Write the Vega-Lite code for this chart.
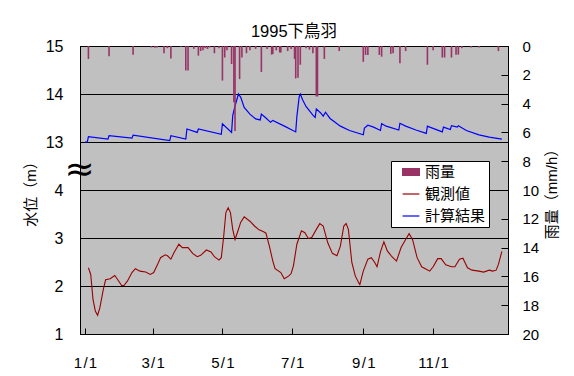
{
  "$schema": "https://vega.github.io/schema/vega-lite/v6.json",
  "width": 428,
  "height": 288,
  "autosize": {"type": "none"},
  "padding": {"left": 80, "top": 46, "right": 66, "bottom": 42},
  "background": "white",
  "title": {"text": "1995下鳥羽", "fontSize": 16.5, "font": "Liberation Sans, Noto Sans CJK JP", "fontWeight": "normal", "color": "#000", "anchor": "middle", "frame": "group", "baseline": "alphabetic", "offset": -15},
  "config": {
    "view": {"fill": "#c0c0c0", "stroke": "#000", "strokeWidth": 1},
    "font": "Liberation Sans, Noto Sans CJK JP",
    "axis": {"labelColor": "#000", "titleColor": "#000", "domainColor": "#000", "tickColor": "#000", "labelFlush": false, "labelOverlap": false, "titleFontWeight": "normal", "labelFont": "Liberation Sans, Noto Sans CJK JP", "titleFont": "Liberation Sans, Noto Sans CJK JP"}
  },
  "datasets": {
    "obs": [
      {"s":"観測値","d":"1995-01-04","v":2.38},{"s":"観測値","d":"1995-01-06","v":2.24},{"s":"観測値","d":"1995-01-08","v":1.72},{"s":"観測値","d":"1995-01-10","v":1.48},{"s":"観測値","d":"1995-01-12","v":1.39},{"s":"観測値","d":"1995-01-14","v":1.55},{"s":"観測値","d":"1995-01-17","v":1.93},{"s":"観測値","d":"1995-01-19","v":2.13},{"s":"観測値","d":"1995-01-23","v":2.15},{"s":"観測値","d":"1995-01-27","v":2.22},{"s":"観測値","d":"1995-01-29","v":2.15},
      {"s":"観測値","d":"1995-02-02","v":2.01},{"s":"観測値","d":"1995-02-04","v":2.01},{"s":"観測値","d":"1995-02-07","v":2.10},{"s":"観測値","d":"1995-02-11","v":2.28},{"s":"観測値","d":"1995-02-14","v":2.36},{"s":"観測値","d":"1995-02-18","v":2.31},{"s":"観測値","d":"1995-02-23","v":2.29},{"s":"観測値","d":"1995-02-27","v":2.24},
      {"s":"観測値","d":"1995-03-02","v":2.28},{"s":"観測値","d":"1995-03-05","v":2.43},{"s":"観測値","d":"1995-03-08","v":2.59},{"s":"観測値","d":"1995-03-12","v":2.65},{"s":"観測値","d":"1995-03-14","v":2.63},{"s":"観測値","d":"1995-03-17","v":2.56},{"s":"観測値","d":"1995-03-20","v":2.71},{"s":"観測値","d":"1995-03-24","v":2.87},{"s":"観測値","d":"1995-03-27","v":2.80},
      {"s":"観測値","d":"1995-04-01","v":2.80},{"s":"観測値","d":"1995-04-05","v":2.68},{"s":"観測値","d":"1995-04-09","v":2.61},{"s":"観測値","d":"1995-04-12","v":2.64},{"s":"観測値","d":"1995-04-17","v":2.75},{"s":"観測値","d":"1995-04-21","v":2.71},{"s":"観測値","d":"1995-04-24","v":2.61},{"s":"観測値","d":"1995-04-28","v":2.54},{"s":"観測値","d":"1995-04-30","v":2.59},
      {"s":"観測値","d":"1995-05-02","v":3.01},{"s":"観測値","d":"1995-05-04","v":3.53},{"s":"観測値","d":"1995-05-06","v":3.63},{"s":"観測値","d":"1995-05-08","v":3.53},{"s":"観測値","d":"1995-05-10","v":3.18},{"s":"観測値","d":"1995-05-12","v":2.97},{"s":"観測値","d":"1995-05-14","v":3.11},{"s":"観測値","d":"1995-05-17","v":3.33},{"s":"観測値","d":"1995-05-20","v":3.44},{"s":"観測値","d":"1995-05-25","v":3.35},{"s":"観測値","d":"1995-05-29","v":3.25},
      {"s":"観測値","d":"1995-06-02","v":3.17},{"s":"観測値","d":"1995-06-06","v":3.13},{"s":"観測値","d":"1995-06-08","v":3.10},{"s":"観測値","d":"1995-06-11","v":2.83},{"s":"観測値","d":"1995-06-14","v":2.52},{"s":"観測値","d":"1995-06-16","v":2.36},{"s":"観測値","d":"1995-06-21","v":2.28},{"s":"観測値","d":"1995-06-24","v":2.15},{"s":"観測値","d":"1995-06-28","v":2.21},{"s":"観測値","d":"1995-06-30","v":2.26},
      {"s":"観測値","d":"1995-07-02","v":2.42},{"s":"観測値","d":"1995-07-05","v":2.87},{"s":"観測値","d":"1995-07-09","v":3.15},{"s":"観測値","d":"1995-07-12","v":3.11},{"s":"観測値","d":"1995-07-15","v":2.99},{"s":"観測値","d":"1995-07-18","v":3.01},{"s":"観測値","d":"1995-07-22","v":3.18},{"s":"観測値","d":"1995-07-25","v":3.30},{"s":"観測値","d":"1995-07-28","v":3.25},
      {"s":"観測値","d":"1995-08-01","v":2.90},{"s":"観測値","d":"1995-08-05","v":2.68},{"s":"観測値","d":"1995-08-09","v":2.63},{"s":"観測値","d":"1995-08-12","v":2.83},{"s":"観測値","d":"1995-08-15","v":3.25},{"s":"観測値","d":"1995-08-17","v":3.30},{"s":"観測値","d":"1995-08-19","v":3.18},{"s":"観測値","d":"1995-08-22","v":2.49},{"s":"観測値","d":"1995-08-25","v":2.21},{"s":"観測値","d":"1995-08-28","v":2.07},{"s":"観測値","d":"1995-08-29","v":2.03},
      {"s":"観測値","d":"1995-09-01","v":2.31},{"s":"観測値","d":"1995-09-05","v":2.56},{"s":"観測値","d":"1995-09-08","v":2.59},{"s":"観測値","d":"1995-09-11","v":2.49},{"s":"観測値","d":"1995-09-13","v":2.40},{"s":"観測値","d":"1995-09-16","v":2.71},{"s":"観測値","d":"1995-09-19","v":2.92},{"s":"観測値","d":"1995-09-22","v":2.73},{"s":"観測値","d":"1995-09-26","v":2.61},{"s":"観測値","d":"1995-09-30","v":2.52},
      {"s":"観測値","d":"1995-10-04","v":2.80},{"s":"観測値","d":"1995-10-08","v":2.97},{"s":"観測値","d":"1995-10-11","v":3.09},{"s":"観測値","d":"1995-10-14","v":2.97},{"s":"観測値","d":"1995-10-18","v":2.59},{"s":"観測値","d":"1995-10-22","v":2.40},{"s":"観測値","d":"1995-10-26","v":2.35},{"s":"観測値","d":"1995-10-29","v":2.31},
      {"s":"観測値","d":"1995-11-01","v":2.40},{"s":"観測値","d":"1995-11-05","v":2.57},{"s":"観測値","d":"1995-11-08","v":2.57},{"s":"観測値","d":"1995-11-12","v":2.44},{"s":"観測値","d":"1995-11-17","v":2.40},{"s":"観測値","d":"1995-11-20","v":2.40},{"s":"観測値","d":"1995-11-24","v":2.56},{"s":"観測値","d":"1995-11-27","v":2.58},
      {"s":"観測値","d":"1995-12-01","v":2.38},{"s":"観測値","d":"1995-12-05","v":2.33},{"s":"観測値","d":"1995-12-11","v":2.31},{"s":"観測値","d":"1995-12-15","v":2.29},{"s":"観測値","d":"1995-12-20","v":2.33},{"s":"観測値","d":"1995-12-23","v":2.31},{"s":"観測値","d":"1995-12-26","v":2.33},{"s":"観測値","d":"1995-12-28","v":2.45},{"s":"観測値","d":"1995-12-31","v":2.72}
    ],
    "calc": [
      {"s":"計算結果","d":"1995-01-01","v":13.00},{"s":"計算結果","d":"1995-01-03","v":13.00},{"s":"計算結果","d":"1995-01-04","v":13.11},{"s":"計算結果","d":"1995-01-21","v":13.06},{"s":"計算結果","d":"1995-01-22","v":13.13},{"s":"計算結果","d":"1995-02-11","v":13.08},{"s":"計算結果","d":"1995-02-12","v":13.14},{"s":"計算結果","d":"1995-03-16","v":13.03},{"s":"計算結果","d":"1995-03-17","v":13.13},{"s":"計算結果","d":"1995-03-30","v":13.06},{"s":"計算結果","d":"1995-03-31","v":13.27},
      {"s":"計算結果","d":"1995-04-09","v":13.20},{"s":"計算結果","d":"1995-04-10","v":13.27},{"s":"計算結果","d":"1995-04-30","v":13.16},{"s":"計算結果","d":"1995-05-01","v":13.38},{"s":"計算結果","d":"1995-05-09","v":13.20},{"s":"計算結果","d":"1995-05-10","v":13.55},{"s":"計算結果","d":"1995-05-12","v":13.75},{"s":"計算結果","d":"1995-05-15","v":14.00},{"s":"計算結果","d":"1995-05-17","v":13.93},{"s":"計算結果","d":"1995-05-20","v":13.72},{"s":"計算結果","d":"1995-05-25","v":13.58},{"s":"計算結果","d":"1995-05-30","v":13.48},
      {"s":"計算結果","d":"1995-06-03","v":13.46},{"s":"計算結果","d":"1995-06-04","v":13.58},{"s":"計算結果","d":"1995-06-08","v":13.50},{"s":"計算結果","d":"1995-06-12","v":13.41},{"s":"計算結果","d":"1995-06-14","v":13.45},{"s":"計算結果","d":"1995-06-25","v":13.32},{"s":"計算結果","d":"1995-07-04","v":13.21},{"s":"計算結果","d":"1995-07-05","v":13.53},{"s":"計算結果","d":"1995-07-07","v":13.94},{"s":"計算結果","d":"1995-07-08","v":14.00},{"s":"計算結果","d":"1995-07-10","v":13.88},{"s":"計算結果","d":"1995-07-13","v":13.74},{"s":"計算結果","d":"1995-07-19","v":13.56},{"s":"計算結果","d":"1995-07-21","v":13.51},{"s":"計算結果","d":"1995-07-22","v":13.69},{"s":"計算結果","d":"1995-07-26","v":13.60},{"s":"計算結果","d":"1995-07-28","v":13.54},{"s":"計算結果","d":"1995-07-30","v":13.62},
      {"s":"計算結果","d":"1995-08-03","v":13.49},{"s":"計算結果","d":"1995-08-12","v":13.33},{"s":"計算結果","d":"1995-08-20","v":13.24},{"s":"計算結果","d":"1995-09-01","v":13.15},{"s":"計算結果","d":"1995-09-02","v":13.29},{"s":"計算結果","d":"1995-09-05","v":13.35},{"s":"計算結果","d":"1995-09-10","v":13.31},{"s":"計算結果","d":"1995-09-16","v":13.24},{"s":"計算結果","d":"1995-09-17","v":13.38},{"s":"計算結果","d":"1995-09-21","v":13.33},
      {"s":"計算結果","d":"1995-10-02","v":13.25},{"s":"計算結果","d":"1995-10-03","v":13.39},{"s":"計算結果","d":"1995-10-08","v":13.33},{"s":"計算結果","d":"1995-10-17","v":13.25},{"s":"計算結果","d":"1995-10-26","v":13.18},{"s":"計算結果","d":"1995-10-27","v":13.33},{"s":"計算結果","d":"1995-10-29","v":13.31},{"s":"計算結果","d":"1995-11-09","v":13.21},{"s":"計算結果","d":"1995-11-10","v":13.31},{"s":"計算結果","d":"1995-11-16","v":13.26},{"s":"計算結果","d":"1995-11-17","v":13.34},{"s":"計算結果","d":"1995-11-22","v":13.31},{"s":"計算結果","d":"1995-11-23","v":13.34},{"s":"計算結果","d":"1995-11-30","v":13.24},{"s":"計算結果","d":"1995-12-11","v":13.15},{"s":"計算結果","d":"1995-12-20","v":13.10},{"s":"計算結果","d":"1995-12-31","v":13.06}
    ],
    "rain": [
      {"s":"雨量","d":"1995-01-04","v":0.9},{"s":"雨量","d":"1995-01-22","v":0.72},{"s":"雨量","d":"1995-02-12","v":0.6},{"s":"雨量","d":"1995-02-28","v":0.1},{"s":"雨量","d":"1995-03-03","v":0.12},{"s":"雨量","d":"1995-03-05","v":0.1},{"s":"雨量","d":"1995-03-11","v":0.5},{"s":"雨量","d":"1995-03-14","v":0.15},{"s":"雨量","d":"1995-03-17","v":0.86},{"s":"雨量","d":"1995-03-26","v":0.05},{"s":"雨量","d":"1995-03-30","v":1.7},
      {"s":"雨量","d":"1995-04-01","v":1.7},{"s":"雨量","d":"1995-04-06","v":0.2},{"s":"雨量","d":"1995-04-10","v":0.67},{"s":"雨量","d":"1995-04-12","v":0.35},{"s":"雨量","d":"1995-04-14","v":0.3},{"s":"雨量","d":"1995-04-16","v":0.15},{"s":"雨量","d":"1995-04-18","v":0.2},{"s":"雨量","d":"1995-04-20","v":0.1},{"s":"雨量","d":"1995-04-24","v":0.5},{"s":"雨量","d":"1995-04-28","v":0.15},
      {"s":"雨量","d":"1995-05-01","v":2.4},{"s":"雨量","d":"1995-05-03","v":0.8},{"s":"雨量","d":"1995-05-05","v":0.3},{"s":"雨量","d":"1995-05-09","v":1.25},{"s":"雨量","d":"1995-05-11","v":3.9},{"s":"雨量","d":"1995-05-12","v":5.9},{"s":"雨量","d":"1995-05-16","v":2.3},{"s":"雨量","d":"1995-05-18","v":0.8},{"s":"雨量","d":"1995-05-22","v":0.5},{"s":"雨量","d":"1995-05-25","v":0.3},{"s":"雨量","d":"1995-05-30","v":0.2},
      {"s":"雨量","d":"1995-06-04","v":1.8},{"s":"雨量","d":"1995-06-09","v":0.2},{"s":"雨量","d":"1995-06-13","v":0.6},{"s":"雨量","d":"1995-06-14","v":0.55},{"s":"雨量","d":"1995-06-17","v":0.3},{"s":"雨量","d":"1995-06-20","v":0.45},{"s":"雨量","d":"1995-06-21","v":0.45},{"s":"雨量","d":"1995-06-27","v":0.35},{"s":"雨量","d":"1995-06-30","v":0.2},
      {"s":"雨量","d":"1995-07-03","v":0.9},{"s":"雨量","d":"1995-07-04","v":2.25},{"s":"雨量","d":"1995-07-06","v":2.2},{"s":"雨量","d":"1995-07-08","v":1.3},{"s":"雨量","d":"1995-07-13","v":0.15},{"s":"雨量","d":"1995-07-16","v":0.25},{"s":"雨量","d":"1995-07-19","v":0.5},{"s":"雨量","d":"1995-07-22","v":3.5},{"s":"雨量","d":"1995-07-23","v":3.5},{"s":"雨量","d":"1995-07-29","v":0.9},{"s":"雨量","d":"1995-08-11","v":0.35},
      {"s":"雨量","d":"1995-09-01","v":1.1},{"s":"雨量","d":"1995-09-03","v":0.62},{"s":"雨量","d":"1995-09-05","v":0.62},{"s":"雨量","d":"1995-09-15","v":0.62},{"s":"雨量","d":"1995-09-17","v":0.74},{"s":"雨量","d":"1995-09-25","v":0.55},{"s":"雨量","d":"1995-09-27","v":0.5},{"s":"雨量","d":"1995-10-03","v":1.2},{"s":"雨量","d":"1995-10-08","v":0.35},{"s":"雨量","d":"1995-10-27","v":1.3},
      {"s":"雨量","d":"1995-11-01","v":0.3},{"s":"雨量","d":"1995-11-09","v":0.8},{"s":"雨量","d":"1995-11-11","v":0.8},{"s":"雨量","d":"1995-11-17","v":0.8},{"s":"雨量","d":"1995-11-21","v":0.6},{"s":"雨量","d":"1995-11-23","v":0.6},{"s":"雨量","d":"1995-11-26","v":0.15},{"s":"雨量","d":"1995-12-04","v":0.1},{"s":"雨量","d":"1995-12-11","v":0.1},{"s":"雨量","d":"1995-12-28","v":0.35}
    ]
  },
  "encoding": {
    "x": {
      "field": "d", "type": "temporal",
      "scale": {"type": "utc", "domain": [{"year": 1995, "month": 1, "date": 1, "utc": true}, {"year": 1996, "month": 1, "date": 1, "utc": true}]},
      "axis": {
        "title": null, "grid": false,
        "values": [{"year": 1995, "month": 1, "date": 1, "utc": true}, {"year": 1995, "month": 3, "date": 1, "utc": true}, {"year": 1995, "month": 5, "date": 1, "utc": true}, {"year": 1995, "month": 7, "date": 1, "utc": true}, {"year": 1995, "month": 9, "date": 1, "utc": true}, {"year": 1995, "month": 11, "date": 1, "utc": true}],
        "labelExpr": "utcFormat(datum.value, '%-m') + '\u200a/\u200a1'",
        "labelFontSize": 15, "tickSize": -6, "labelPadding": 27, "domainColor": "#000"
      }
    }
  },
  "layer": [
    {
      "data": {"name": "obs"},
      "mark": {"type": "line", "strokeWidth": 1.1},
      "encoding": {
        "y": {
          "field": "v", "type": "quantitative",
          "scale": {"domain": [1, 7], "zero": false, "nice": false},
          "axis": {
            "orient": "left", "title": "水位（m）", "titleFontSize": 15, "titlePadding": 7,
            "values": [1, 2, 3, 4, 4.42, 5, 6, 7],
            "labelExpr": "datum.value == 4.42 ? '≈' : (datum.value >= 5 ? datum.value + 8 : datum.value)",
            "labelFontSize": {"condition": {"test": "datum.value == 4.42", "value": 36}, "value": 16},
            "labelFont": {"condition": {"test": "datum.value == 4.42", "value": "DejaVu Sans"}, "value": "Liberation Sans"},
            "labelAlign": {"condition": {"test": "datum.value == 4.42", "value": "center"}, "value": "right"},
            "labelPadding": {"condition": {"test": "datum.value == 4.42", "value": 1}, "value": 17},
            "ticks": false,
            "grid": true, "gridColor": "#000", "gridWidth": 1,
            "gridOpacity": {"condition": {"test": "datum.value == 4.42", "value": 0}, "value": 1}
          }
        },
        "color": {
          "field": "s", "type": "nominal",
          "scale": {"domain": ["雨量", "観測値", "計算結果"], "range": ["#993366", "#990000", "#0000ff"]},
          "legend": {
            "orient": "none", "legendX": 311, "legendY": 115, "title": null,
            "fillColor": "#ffffff", "strokeColor": "#000000", "padding": 3,
            "symbolOffset": 9, "symbolSize": 196, "rowPadding": 6,
            "labelFontSize": 15, "labelOffset": 6, "labelColor": "#000", "labelFont": "Noto Sans CJK JP",
            "labelExpr": "datum.label + '\u2002'",
            "encode": {
              "symbols": {
                "update": {
                  "shape": {"signal": "datum.value === '雨量' ? 'M-1.2,-0.5H1.2V0.5H-1.2Z' : 'M-1.2,0H1.2'"},
                  "fill": {"signal": "datum.value === '雨量' ? '#993366' : 'transparent'"},
                  "stroke": {"scale": "color", "field": "value"},
                  "strokeWidth": {"value": 1.2},
                  "opacity": {"value": 1}
                }
              }
            }
          }
        }
      }
    },
    {
      "data": {"name": "calc"},
      "mark": {"type": "line", "strokeWidth": 1.2},
      "encoding": {
        "y": {"field": "v", "type": "quantitative", "scale": {"domain": [9, 15], "zero": false, "nice": false}, "axis": null},
        "color": {"field": "s", "type": "nominal"}
      }
    },
    {
      "data": {"name": "rain"},
      "mark": {"type": "bar", "size": 1.6},
      "encoding": {
        "y": {
          "field": "v", "type": "quantitative",
          "scale": {"domain": [0, 20], "reverse": true, "nice": false},
          "axis": {
            "orient": "right", "title": "雨量（mm/h）", "titleFontSize": 15, "titleAngle": 270, "titleBaseline": "top", "titlePadding": 6,
            "values": [0, 2, 4, 6, 8, 10, 12, 14, 16, 18, 20],
            "labelFontSize": 15, "tickSize": -7, "labelPadding": 21, "grid": false
          }
        },
        "color": {"field": "s", "type": "nominal"}
      }
    }
  ],
  "resolve": {"scale": {"y": "independent"}, "axis": {"y": "independent"}}
}
